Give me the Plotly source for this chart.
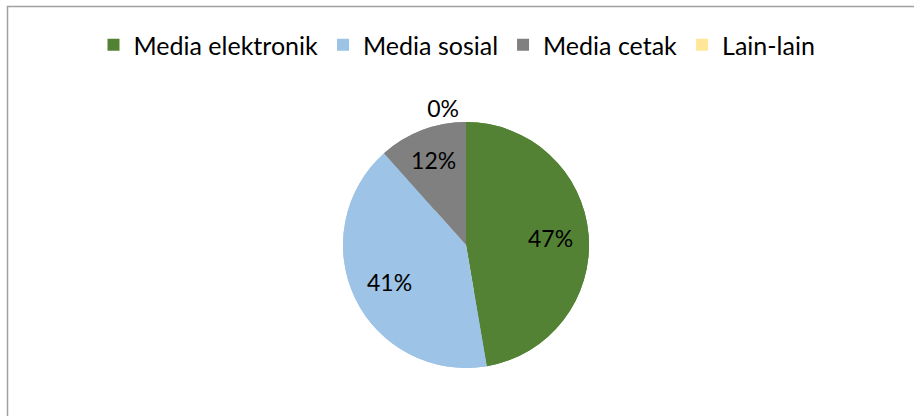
import plotly.graph_objects as go

labels = ["Media elektronik", "Media sosial", "Media cetak", "Lain-lain"]
values = [47.3, 41.1, 11.6, 0.0]
colors = ["#548235", "#9DC3E6", "#808080", "#FFE699"]
positions = ["inside", "inside", "inside", "outside"]

W, H = 914, 416
cx, cy, r = 466, 245, 123
dom = dict(x=[(cx - r) / W, (cx + r) / W], y=[(H - cy - r) / H, (H - cy + r) / H])
FONT = "Lato, Carlito, sans-serif"

# full pie underneath (fills the centre)
base = go.Pie(
    labels=labels, values=values, sort=False, direction="clockwise", rotation=0,
    marker=dict(colors=colors, line=dict(width=0)),
    textinfo="none", domain=dom, showlegend=True, hoverinfo="skip",
)
# ring on top carrying the percentage labels further out (as in the reference)
ring = go.Pie(
    labels=labels, values=values, sort=False, direction="clockwise", rotation=0,
    hole=0.38,
    marker=dict(colors=colors, line=dict(width=0)),
    texttemplate="%{percent:.0%}",
    textposition=positions,
    insidetextorientation="horizontal",
    textfont=dict(family=FONT, size=23, color="#000000"),
    domain=dom, showlegend=False, hoverinfo="label+percent",
)

fig = go.Figure([base, ring])

fig.update_layout(
    width=W, height=H,
    margin=dict(l=0, r=0, t=0, b=0),
    paper_bgcolor="#FFFFFF",
    plot_bgcolor="#FFFFFF",
    font=dict(family=FONT, size=25, color="#000000"),
    showlegend=True,
    legend=dict(
        orientation="h",
        x=0.5, xanchor="center",
        y=1 - 45 / H, yanchor="middle",
        font=dict(size=25, color="#000000"),
        traceorder="normal",
    ),
    shapes=[dict(
        type="rect", xref="paper", yref="paper",
        x0=7.5 / W, x1=1.05, y0=-0.05, y1=1 - 6.5 / H,
        line=dict(color="#A0A0A0", width=1.5),
        fillcolor="rgba(0,0,0,0)", layer="below",
    )],
)

fig.write_html("out.html")
